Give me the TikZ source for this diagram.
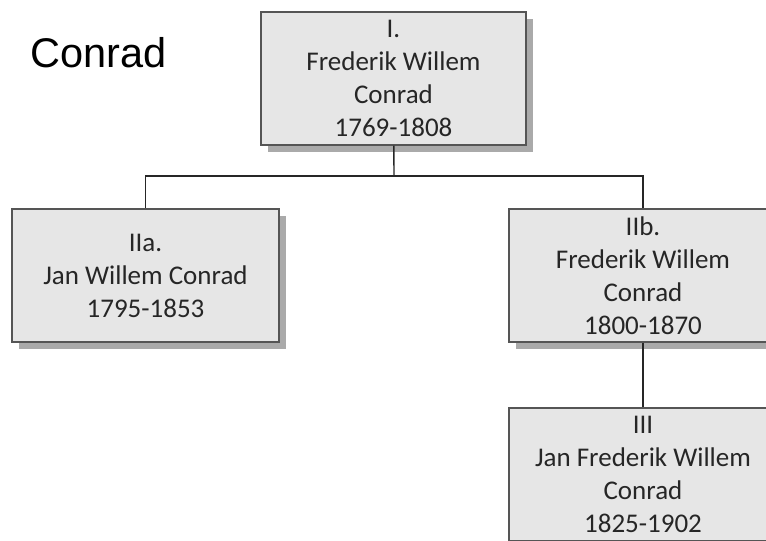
\documentclass[tikz,border=0pt]{standalone}
\usepackage{fontspec}
\setmainfont{Carlito}
\newfontfamily\titlefont{Liberation Sans}
\usetikzlibrary{shadows}
\definecolor{boxfill}{RGB}{230,230,230}
\definecolor{boxline}{RGB}{85,85,85}
\definecolor{shade}{RGB}{170,170,170}
\tikzset{
  persoon/.style={draw=boxline, line width=1.3pt, fill=boxfill, align=center,
    minimum width=267pt, minimum height=133pt, inner sep=0pt,
    font=\fontsize{27}{33}\selectfont, text=black!85,
    drop shadow={shadow xshift=7pt, shadow yshift=-7pt, fill=shade, opacity=1}},
  lijn/.style={draw=black!85, line width=1.4pt}
}
\begin{document}
\begin{tikzpicture}[x=1pt,y=-1pt]
		\useasboundingbox (0,0) rectangle (766,541);
		\node[anchor=base west, inner sep=0pt, font=\titlefont\fontsize{41.5}{48}\selectfont] (titel) at (30,67) {Conrad};
		% generatie I
		\node[persoon, minimum width=265pt] (gen1) at (393.5,78.5) {I.\\Frederik Willem\\Conrad\\1769-1808};
		% generatie II
		\node[persoon] (gen2a) at (145.5,275.5) {IIa.\\Jan Willem Conrad\\1795-1853};
		\node[persoon, minimum width=268pt] (gen2b) at (643,275.5) {IIb.\\Frederik Willem\\Conrad\\1800-1870};
		% generatie III
		\node[persoon, minimum width=268pt] (gen3) at (643,474.5) {III\\Jan Frederik Willem\\Conrad\\1825-1902};
		\coordinate (splits) at (394,176);
		\draw[lijn] (gen1) -- (splits);
		\draw[lijn] (gen2a.north) |- (splits) -| (gen2b.north);
		\draw[lijn] (gen2b) -- (gen3);
\end{tikzpicture}
\end{document}
